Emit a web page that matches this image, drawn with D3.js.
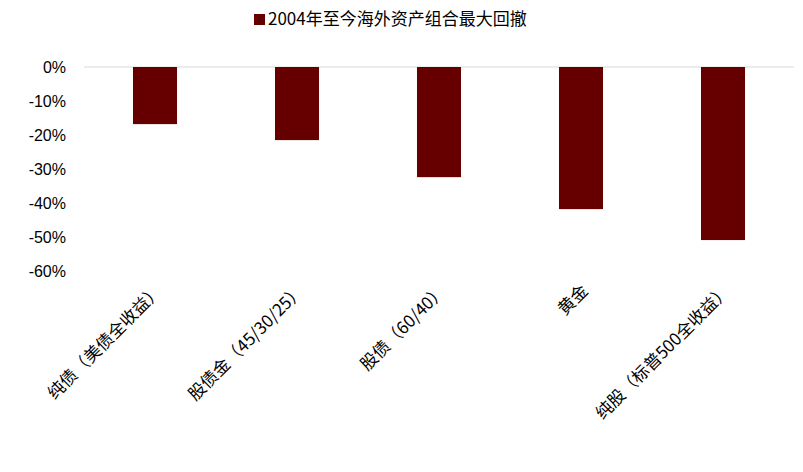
<!DOCTYPE html>
<html><head><meta charset="utf-8">
<script src="https://cdn.jsdelivr.net/npm/d3@7/dist/d3.min.js"></script>
<style>body{margin:0;background:#fff}text{font-family:"Noto Sans CJK SC",Arial,sans-serif}</style>
</head><body><svg id="c" width="803" height="472"></svg>
<script>
const categories=["纯债（美债全收益）","股债金（45/30/25）","股债（60/40）","黄金","纯股（标普500全收益）"];
const values=[-16.8,-21.5,-32.4,-41.8,-50.9];
const ticks=[0,-10,-20,-30,-40,-50,-60];
const legendLabel="2004年至今海外资产组合最大回撤";
const svg=d3.select("#c");
const x=d3.scaleBand().domain(categories).range([84,794]).paddingInner(0.69).paddingOuter(0.345);
const y=d3.scaleLinear().domain([-60,0]).range([271,67]);
const ax=svg.append("g").attr("transform","translate(84,0)").call(d3.axisLeft(y).tickValues(ticks).tickFormat(d=>d+"%").tickSize(0).tickPadding(18));
ax.select(".domain").remove();
ax.selectAll("text").attr("font-size",16).attr("fill","#000").style("font-family","Arial,Liberation Sans,sans-serif");
svg.append("line").attr("x1",84).attr("x2",794).attr("y1",y(0)).attr("y2",y(0)).attr("stroke","#d9d9d9");
svg.selectAll("rect.b").data(values).join("rect").attr("class","b")
 .attr("x",(d,i)=>x(categories[i])).attr("width",x.bandwidth())
 .attr("y",y(0)).attr("height",d=>y(d)-y(0)).attr("fill","#660000");
svg.selectAll("text.cat").data(categories).join("text").attr("class","cat")
 .attr("transform",d=>`translate(${x(d)+x.bandwidth()/2+8},292) rotate(-45)`)
 .attr("text-anchor","end").attr("font-size",17).attr("fill","#000").text(d=>d);
svg.append("rect").attr("x",254).attr("y",14).attr("width",11).attr("height",11).attr("fill","#660000");
svg.append("text").attr("x",268).attr("y",25).attr("font-size",17).attr("fill","#000").text(legendLabel);
</script></body></html>
